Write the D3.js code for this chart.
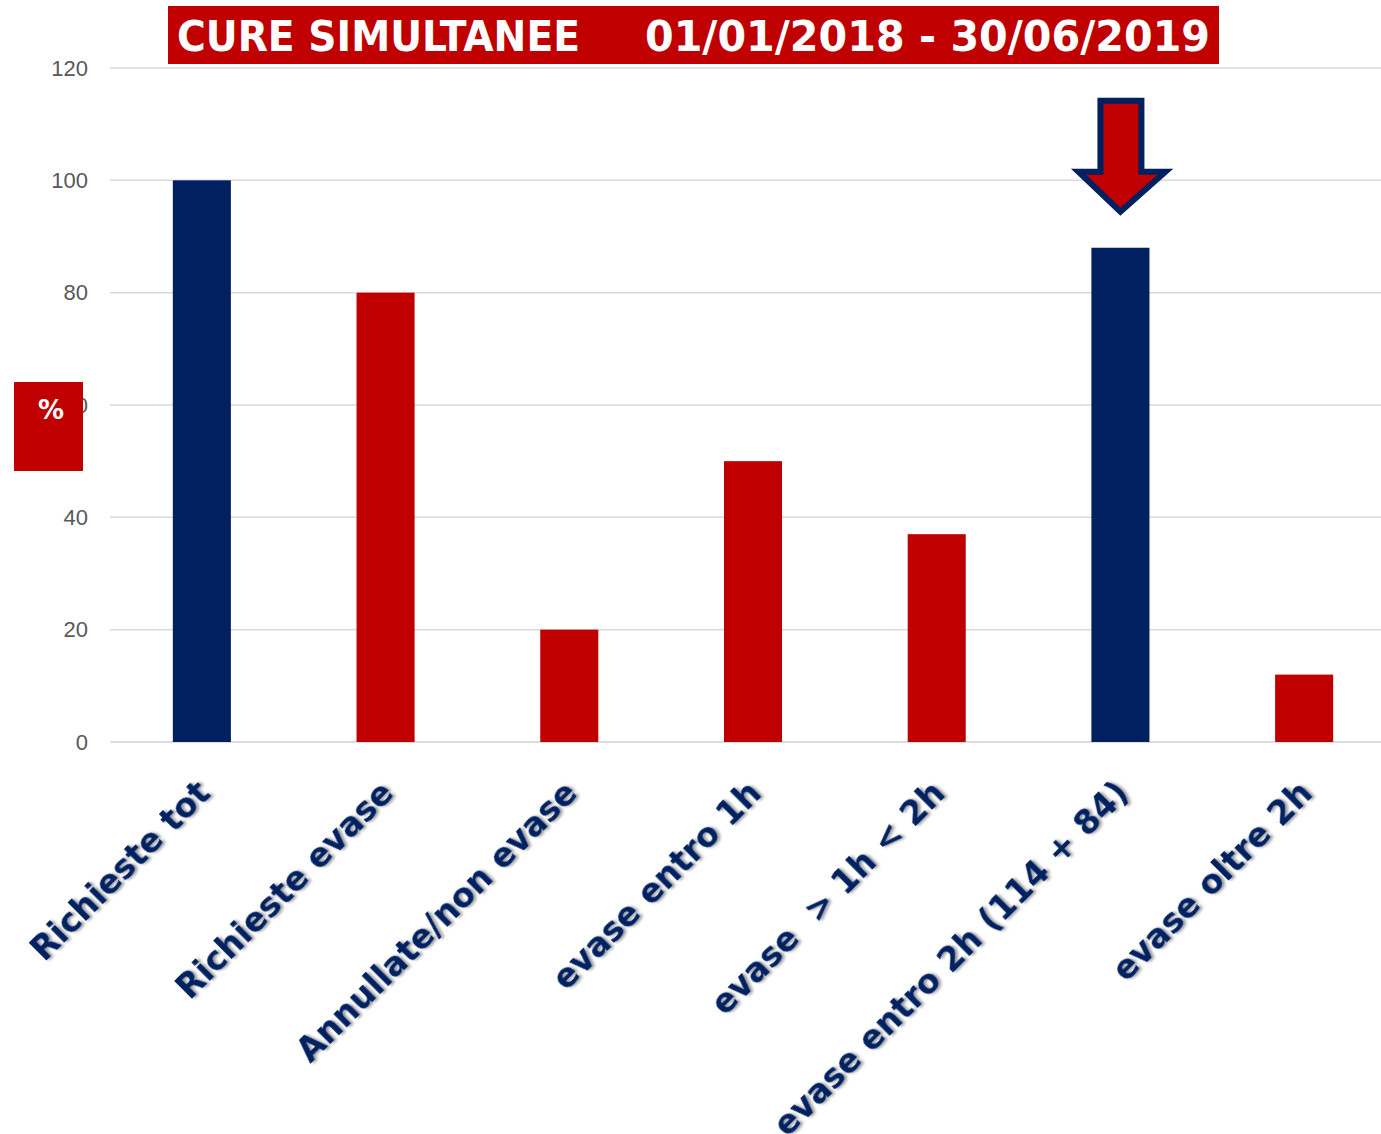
<!DOCTYPE html>
<html>
<head>
<meta charset="utf-8">
<script src="https://cdn.jsdelivr.net/npm/d3@7"></script>
<style>
  body { margin: 0; background: #fff; }
  svg { display: block; }
</style>
</head>
<body>
<svg id="chart" width="1381" height="1134"></svg>
<script>
// data
const categories = ['Richieste tot', 'Richieste evase', 'Annullate/non evase', 'evase entro 1h',
  'evase  > 1h < 2h', 'evase entro 2h (114 + 84)', 'evase oltre 2h'];
const values = [100, 80, 20, 50, 37, 88, 12];
const barColors = ['#002060', '#C00000', '#C00000', '#C00000', '#C00000', '#002060', '#C00000'];
const yTicks = [0, 20, 40, 60, 80, 100, 120];
const titleLeft = 'CURE SIMULTANEE';
const titleRight = '01/01/2018 - 30/06/2019';
const highlighted = 'evase entro 2h (114 + 84)';

const svg = d3.select('#chart');

const x = d3.scaleBand()
  .domain(categories)
  .range([110, 1396])
  .paddingInner(0.684)
  .paddingOuter(0.342);

const y = d3.scaleLinear()
  .domain([0, 120])
  .range([742, 68]);

const defs = svg.append('defs');
const f = defs.append('filter').attr('id', 'shadow')
  .attr('x', '-10%').attr('y', '-10%').attr('width', '130%').attr('height', '130%');
f.append('feDropShadow')
  .attr('dx', 2).attr('dy', 2).attr('stdDeviation', 1.4)
  .attr('flood-color', '#000').attr('flood-opacity', 0.4);

// gridlines
svg.append('g')
  .selectAll('line')
  .data(yTicks)
  .join('line')
  .attr('x1', 110)
  .attr('x2', 1381)
  .attr('y1', d => y(d))
  .attr('y2', d => y(d))
  .style('stroke', d => d === 0 ? '#d0d0d0' : '#d9d9d9')
  .style('stroke-width', 1.5);

// y axis labels
const yAxis = d3.axisLeft(y).tickValues(yTicks).tickSize(0).tickPadding(0);
const yg = svg.append('g').attr('transform', 'translate(88,0)').call(yAxis);
yg.select('.domain').remove();
yg.selectAll('text')
  .style('font-family', '"Liberation Sans", Arial, sans-serif')
  .style('font-size', '22px')
  .style('fill', '#595959');

// bars
svg.append('g')
  .selectAll('rect')
  .data(values)
  .join('rect')
  .attr('x', (d, i) => x(categories[i]))
  .attr('y', d => y(d))
  .attr('width', x.bandwidth())
  .attr('height', d => y(0) - y(d))
  .style('fill', (d, i) => barColors[i]);

// x labels, rotated
svg.append('g')
  .selectAll('text')
  .data(categories)
  .join('text')
  .attr('transform', d => `translate(${x(d) + x.bandwidth() / 2 + 10},795) rotate(-45)`)
  .attr('text-anchor', 'end')
  .attr('xml:space', 'preserve')
  .text(d => d)
  .style('font-family', '"DejaVu Sans", Verdana, sans-serif')
  .style('font-weight', 'bold')
  .style('font-size', '33px')
  .style('fill', '#002060')
  .attr('filter', 'url(#shadow)');

// arrow over the highlighted bar
const cx = x(highlighted) + x.bandwidth() / 2;
const tipY = y(values[categories.indexOf(highlighted)]) - 36;
const arrow = [
  [cx - 20, tipY - 111], [cx + 21, tipY - 111], [cx + 21, tipY - 40],
  [cx + 45, tipY - 40], [cx, tipY], [cx - 42, tipY - 40], [cx - 20, tipY - 40]
];
svg.append('path')
  .attr('d', d3.line()(arrow) + 'Z')
  .style('fill', '#C00000')
  .style('stroke', '#002060')
  .style('stroke-width', 6)
  .style('stroke-linejoin', 'miter');

// title banner
svg.append('rect')
  .attr('x', 168).attr('y', 6).attr('width', 1051).attr('height', 58)
  .style('fill', '#C00000');
svg.append('text')
  .attr('x', 177).attr('y', 51)
  .attr('textLength', 403).attr('lengthAdjust', 'spacingAndGlyphs')
  .text(titleLeft)
  .style('font-family', '"DejaVu Sans Condensed", "DejaVu Sans", sans-serif')
  .style('font-weight', 'bold').style('font-size', '42px').style('fill', '#fff');
svg.append('text')
  .attr('x', 645).attr('y', 51)
  .attr('textLength', 565).attr('lengthAdjust', 'spacingAndGlyphs')
  .text(titleRight)
  .style('font-family', '"DejaVu Sans Condensed", "DejaVu Sans", sans-serif')
  .style('font-weight', 'bold').style('font-size', '42px').style('fill', '#fff');

// percent box
svg.append('rect')
  .attr('x', 14).attr('y', 382).attr('width', 69).attr('height', 89)
  .style('fill', '#C00000');
svg.append('text')
  .attr('x', 51).attr('y', 419)
  .attr('text-anchor', 'middle')
  .text('%')
  .style('font-family', '"DejaVu Sans", sans-serif')
  .style('font-weight', 'bold').style('font-size', '26px').style('fill', '#fff');
</script>
</body>
</html>
